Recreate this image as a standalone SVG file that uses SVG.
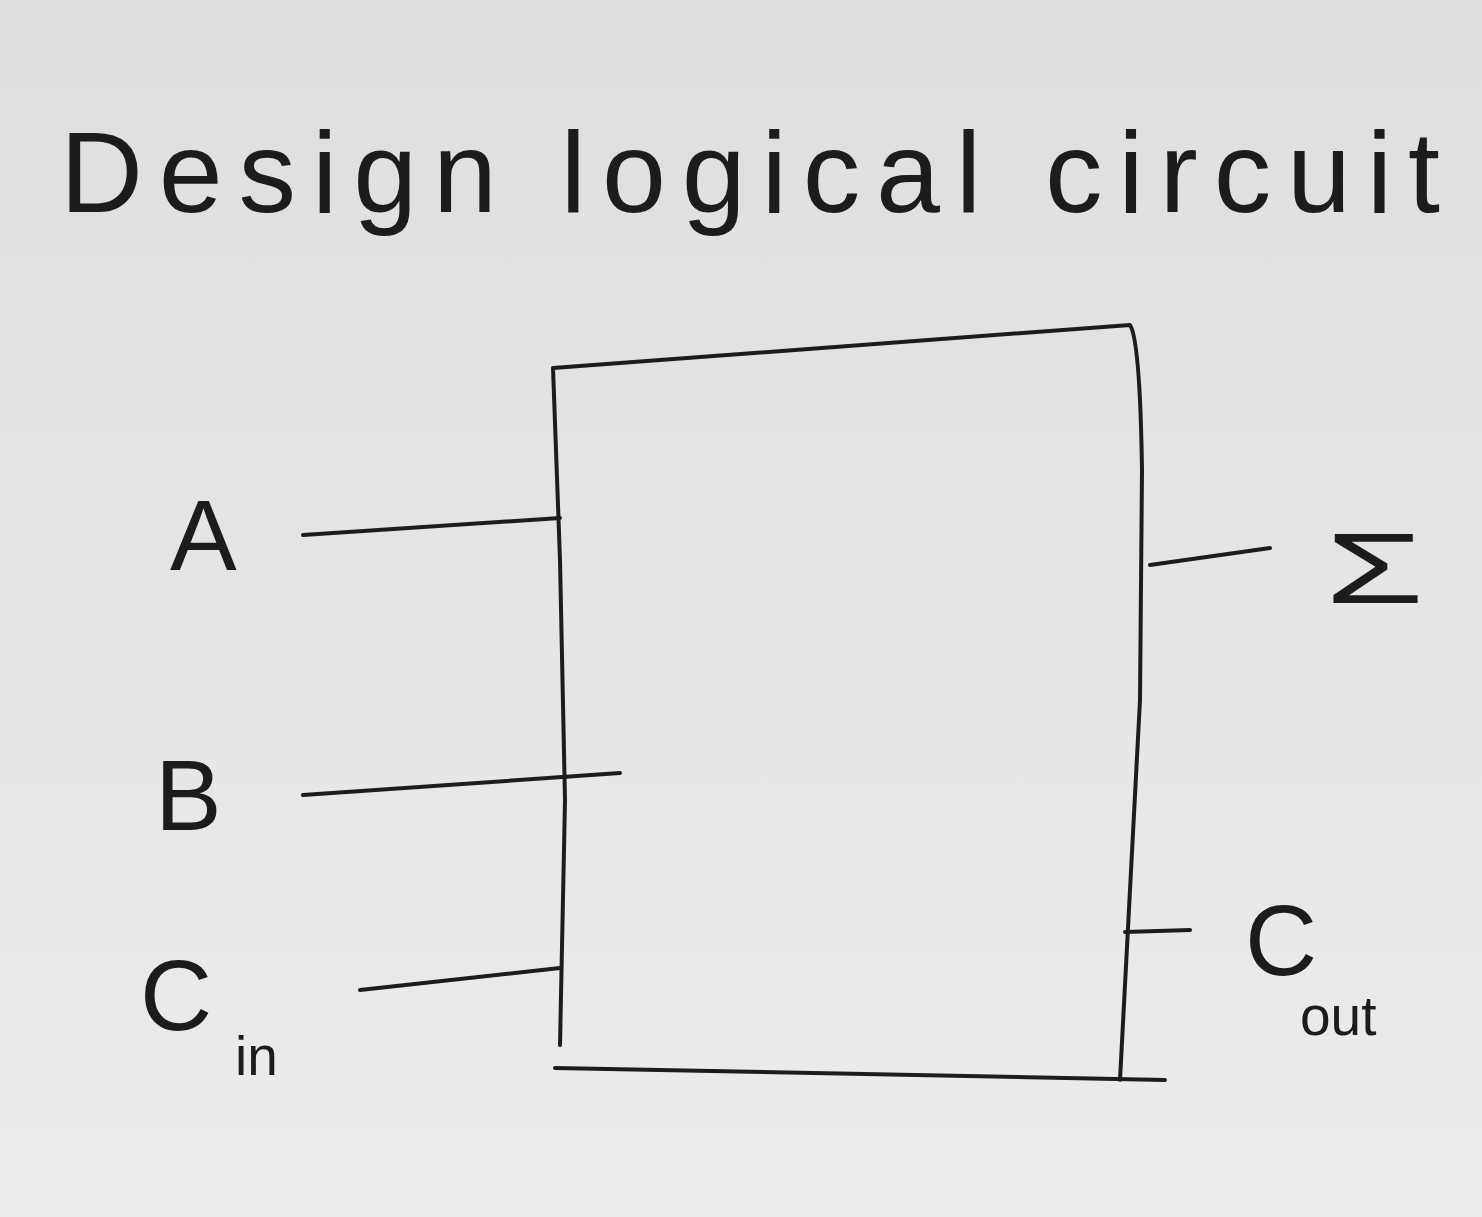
<svg xmlns="http://www.w3.org/2000/svg" width="1482" height="1217" viewBox="0 0 1482 1217">
<style>
.ink{fill:none;stroke:#1c1c1c;stroke-width:4;stroke-linecap:round;stroke-linejoin:round}
.t{font-family:"Liberation Sans",Arial,sans-serif;fill:#1c1c1c}
</style>
<defs>
<linearGradient id="paper" x1="0" y1="0" x2="0" y2="1">
<stop offset="0" stop-color="#dededc"/>
<stop offset="1" stop-color="#ececea"/>
</linearGradient>
</defs>
<rect width="1482" height="1217" fill="url(#paper)"/>
<text class="t" x="60" y="212" font-size="115" font-weight="300" textLength="1380" lengthAdjust="spacing">Design logical circuit</text>
<g id="block">
<path class="ink" d="M553 368 L1130 325 Q1140 340 1142 470 L1140 700 L1120 1080 M553 368 L560 560 L565 800 L560 1045 M555 1068 L1165 1080"/>
</g>
<g id="connectors">
<path class="ink" d="M303 535 L560 518"/>
<path class="ink" d="M303 795 L620 773"/>
<path class="ink" d="M360 990 L560 968"/>
<path class="ink" d="M1150 565 L1270 548"/>
<path class="ink" d="M1125 932 L1190 930"/>
</g>
<g id="labels">
<text class="t" x="170" y="570" font-size="100">A</text>
<text class="t" x="155" y="830" font-size="100">B</text>
<g id="cin"><text class="t" x="140" y="1030" font-size="100">C</text><text class="t" x="235" y="1075" font-size="55">in</text></g>
<text class="t" x="1325" y="603" font-size="100" transform="translate(1325 0) scale(1.6 1) translate(-1325 0)">Σ</text>
<g id="cout"><text class="t" x="1245" y="975" font-size="100">C</text><text class="t" x="1300" y="1035" font-size="55">out</text></g>
</g>
</svg>
